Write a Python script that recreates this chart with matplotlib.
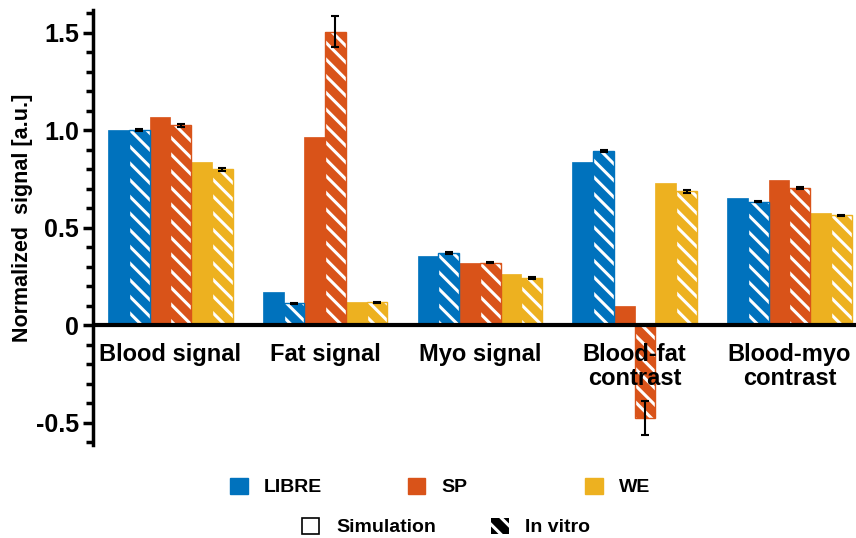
import numpy as np
import matplotlib
matplotlib.use("Agg")
import matplotlib.pyplot as plt
from matplotlib.patches import Patch
from matplotlib.ticker import MultipleLocator

plt.rcParams['font.family'] = ['Liberation Sans', 'DejaVu Sans']
plt.rcParams['font.weight'] = 'bold'
plt.rcParams['hatch.linewidth'] = 2.2

categories = ['Blood signal', 'Fat signal', 'Myo signal', 'Blood-fat\ncontrast', 'Blood-myo\ncontrast']
methods = ['LIBRE', 'SP', 'WE']
colors = ['#0072BD', '#D95319', '#EDB120']

# simulation values per method
sim = {
    'LIBRE': [1.00, 0.168, 0.355, 0.837, 0.650],
    'SP':    [1.067, 0.964, 0.320, 0.099, 0.744],
    'WE':    [0.837, 0.116, 0.260, 0.727, 0.576],
}
# in vitro measurements (mean, std)
vitro = {
    'LIBRE': [1.00, 0.111, 0.370, 0.892, 0.632],
    'SP':    [1.024, 1.504, 0.320, -0.479, 0.703],
    'WE':    [0.800, 0.116, 0.240, 0.686, 0.563],
}
vitro_err = {
    'LIBRE': [0.005, 0.003, 0.005, 0.006, 0.003],
    'SP':    [0.007, 0.080, 0.003, 0.087, 0.006],
    'WE':    [0.008, 0.004, 0.004, 0.007, 0.003],
}

fig = plt.figure(figsize=(8.56, 5.38), dpi=100)
ax = fig.add_axes([0.1086, 0.173, 0.8914, 0.808])

x = np.arange(len(categories))
w = 0.134
for i, (m, c) in enumerate(zip(methods, colors)):
    xs = x - 2.5 * w + 2 * i * w
    xv = xs + w
    ax.bar(xs, sim[m], width=w, color=c, edgecolor=c, linewidth=0.5, zorder=2)
    # hatched in vitro bars: white stripes over the colour, then a coloured outline
    ax.bar(xv, vitro[m], width=w, color=c, edgecolor='white', linewidth=0,
           hatch='\\\\', zorder=2)
    ax.bar(xv, vitro[m], width=w, fill=False, edgecolor=c, linewidth=1.0, zorder=3)
    ax.errorbar(xv, vitro[m], yerr=vitro_err[m], fmt='none', ecolor='black',
                elinewidth=1.5, capsize=3, capthick=1.5, zorder=4)

ax.set_xlim(-0.5, 4.43)
ax.set_ylim(-0.615, 1.615)
ax.axhline(0, color='black', linewidth=3, zorder=5)

ax.spines['top'].set_visible(False)
ax.spines['right'].set_visible(False)
ax.spines['bottom'].set_visible(False)
ax.spines['left'].set_linewidth(2.5)

ax.yaxis.set_major_locator(MultipleLocator(0.5))
ax.yaxis.set_minor_locator(MultipleLocator(0.1))
ax.set_yticks([-0.5, 0, 0.5, 1.0, 1.5])
ax.set_yticklabels(['-0.5', '0', '0.5', '1.0', '1.5'], fontsize=18, fontweight='bold')
ax.tick_params(axis='y', which='major', length=7, width=2.5, direction='out', pad=3)
ax.tick_params(axis='y', which='minor', length=5, width=2.5, direction='out')
ax.set_xticks([])
ax.set_ylabel('Normalized  signal [a.u.]', fontsize=15.5, fontweight='bold')
ax.yaxis.set_label_coords(-0.079, 0.522)

for xi, lab in zip(x, categories):
    ax.text(xi, -0.09, lab, ha='center', va='top', fontsize=17, fontweight='bold',
            linespacing=1.1, zorder=6)

# legend entries on a fixed grid, one small legend per entry
leg_kw = dict(loc='center left', frameon=False, fontsize=14, handlelength=0.9,
              handleheight=0.9, handletextpad=0.85, borderpad=0, borderaxespad=0)
for i, (m, c) in enumerate(zip(methods, colors)):
    fig.legend([Patch(facecolor=c, edgecolor=c)], [m],
               bbox_to_anchor=(0.2687 + 0.2074 * i, 0.0948), **leg_kw)

style_handles = [Patch(facecolor='white', edgecolor='black', linewidth=1.2),
                 Patch(facecolor='black', edgecolor='white', hatch='\\\\', linewidth=0)]
for h, lab, xa in zip(style_handles, ['Simulation', 'In vitro'], [0.3528, 0.5736]):
    fig.legend([h], [lab], bbox_to_anchor=(xa, 0.0204), **leg_kw)

fig.savefig('out.png', dpi=100)
